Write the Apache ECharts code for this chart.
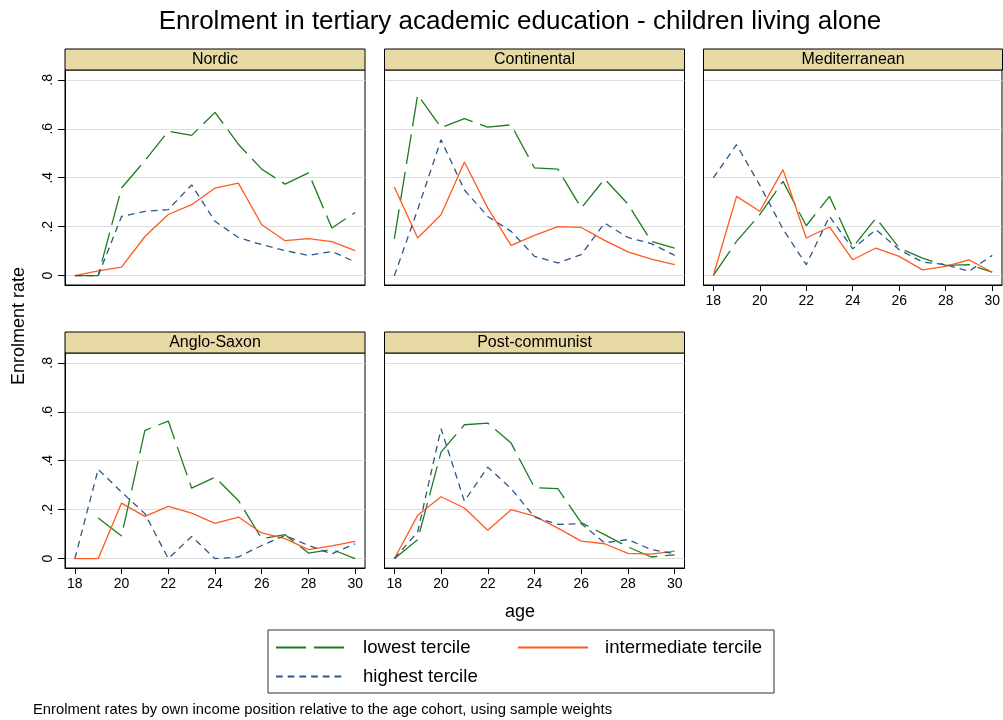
<!DOCTYPE html>
<html>
<head>
<meta charset="utf-8">
<title>Enrolment in tertiary academic education - children living alone</title>
<script src="https://cdn.jsdelivr.net/npm/echarts@6/dist/echarts.min.js"></script>
<style>
  html, body { margin: 0; padding: 0; background: #fff; }
  #chart { width: 1003px; height: 720px; }
</style>
</head>
<body>
<div id="chart"></div>
<script>
const ages = [18, 19, 20, 21, 22, 23, 24, 25, 26, 27, 28, 29, 30]
const xTicks = [18, 20, 22, 24, 26, 28, 30]
const yTicks = [0, 0.2, 0.4, 0.6, 0.8]
const regions = ['Nordic', 'Continental', 'Mediterranean', 'Anglo-Saxon', 'Post-communist']
const terciles = ['lowest tercile', 'intermediate tercile', 'highest tercile']

// enrolment rate by age
const nordicLowest = [0, 0, 0.358, 0.47, 0.59, 0.573, 0.667, 0.537, 0.435, 0.374, 0.42, 0.195, 0.258]
const nordicMiddle = [0, 0.02, 0.035, 0.16, 0.25, 0.29, 0.358, 0.378, 0.208, 0.143, 0.151, 0.139, 0.102]
const nordicHighest = [0, 0, 0.242, 0.263, 0.27, 0.371, 0.222, 0.156, 0.127, 0.102, 0.083, 0.099, 0.056]

const continentalLowest = [0.15, 0.739, 0.605, 0.641, 0.607, 0.616, 0.44, 0.435, 0.276, 0.395, 0.292, 0.14, 0.113]
const continentalMiddle = [0.362, 0.154, 0.249, 0.464, 0.276, 0.124, 0.165, 0.2, 0.197, 0.144, 0.097, 0.068, 0.045]
const continentalHighest = [0, 0.27, 0.555, 0.35, 0.242, 0.181, 0.079, 0.052, 0.086, 0.215, 0.156, 0.131, 0.083]

const medLowest = [0, 0.14, 0.249, 0.385, 0.204, 0.324, 0.116, 0.235, 0.113, 0.072, 0.042, 0.045, 0.015]
const medMiddle = [0, 0.324, 0.263, 0.433, 0.154, 0.199, 0.065, 0.113, 0.079, 0.024, 0.038, 0.065, 0.014]
const medHighest = [0.399, 0.535, 0.37, 0.19, 0.045, 0.242, 0.11, 0.188, 0.106, 0.056, 0.045, 0.018, 0.083]

const angloLowest = [null, 0.166, 0.093, 0.524, 0.562, 0.288, 0.333, 0.238, 0.082, 0.098, 0.023, 0.038, 0]
const angloMiddle = [0, 0, 0.227, 0.173, 0.214, 0.186, 0.144, 0.17, 0.105, 0.082, 0.037, 0.052, 0.071]
const angloHighest = [0, 0.365, 0.272, 0.184, 0, 0.091, 0, 0.007, 0.054, 0.095, 0.054, 0.02, 0.061]

const postLowest = [0, 0.078, 0.435, 0.547, 0.554, 0.472, 0.29, 0.286, 0.147, 0.098, 0.048, 0.007, 0.016]
const postMiddle = [0, 0.177, 0.253, 0.207, 0.116, 0.2, 0.174, 0.125, 0.072, 0.061, 0.022, 0.019, 0.031]
const postHighest = [0, 0.109, 0.531, 0.235, 0.374, 0.286, 0.17, 0.14, 0.143, 0.065, 0.078, 0.037, 0.02]

const panelData = [
  [nordicLowest, nordicMiddle, nordicHighest],
  [continentalLowest, continentalMiddle, continentalHighest],
  [medLowest, medMiddle, medHighest],
  [angloLowest, angloMiddle, angloHighest],
  [postLowest, postMiddle, postHighest]
]

const font = '"Liberation Sans", Arial, sans-serif'
const lineStyles = [
  { color: '#1e7b1e', width: 1.3, type: [30, 8] },
  { color: '#ff5a1e', width: 1.3, type: 'solid' },
  { color: '#2a5888', width: 1.3, type: [6.7, 5] }
]

// panel boxes: plot region below the strip header
const panels = [
  { left: 65, top: 70, width: 300, xLabels: false, yLabels: true },
  { left: 384.5, top: 70, width: 300, xLabels: false, yLabels: false },
  { left: 703.5, top: 70, width: 299, xLabels: true, yLabels: false },
  { left: 65, top: 353, width: 300, xLabels: true, yLabels: true },
  { left: 384.5, top: 353, width: 300, xLabels: true, yLabels: false }
]
const plotHeight = 215
const headerHeight = 21

const chart = echarts.init(document.getElementById('chart'), null, { renderer: 'canvas' })

const grid = panels.map(p => ({
  left: p.left, top: p.top, width: p.width, height: plotHeight,
  show: true, backgroundColor: '#fff', borderColor: '#000', borderWidth: 1
}))

const xAxis = panels.map((p, i) => ({
  type: 'value', gridIndex: i, min: 17.58, max: 30.42,
  axisLine: { show: true, onZero: false, lineStyle: { color: '#000', width: 1 } },
  axisTick: { show: p.xLabels, length: 6, customValues: xTicks, lineStyle: { color: '#000' } },
  axisLabel: { show: p.xLabels, customValues: xTicks, margin: 9, fontSize: 14, color: '#000', fontFamily: font },
  splitLine: { show: false }
}))

const yAxis = panels.map((p, i) => ({
  type: 'value', gridIndex: i, min: -0.038, max: 0.84,
  axisLine: { show: true, onZero: false, lineStyle: { color: '#000', width: 1 } },
  axisTick: { show: p.yLabels, length: 7, customValues: yTicks, lineStyle: { color: '#000' } },
  axisLabel: {
    show: p.yLabels, customValues: yTicks, rotate: 90, margin: 10, fontSize: 14,
    color: '#000', fontFamily: font,
    formatter: v => (v === 0 ? '0' : String(v).replace(/^0/, ''))
  },
  splitLine: { show: true, lineStyle: { color: '#dedede', width: 1 } }
}))

const series = []
panelData.forEach((sets, i) => {
  sets.forEach((vals, j) => {
    series.push({
      name: terciles[j],
      type: 'line',
      xAxisIndex: i,
      yAxisIndex: i,
      symbol: 'none',
      lineStyle: lineStyles[j],
      itemStyle: { color: lineStyles[j].color },
      data: ages.map((a, k) => [a, vals[k]]).filter(d => d[1] !== null)
    })
  })
})

const graphic = []
panels.forEach((p, i) => {
  graphic.push({
    type: 'rect',
    shape: { x: p.left, y: p.top - headerHeight, width: p.width, height: headerHeight },
    style: { fill: '#e6d9a3', stroke: '#000', lineWidth: 1 }
  })
  graphic.push({
    type: 'text', x: p.left + p.width / 2, y: p.top - headerHeight / 2,
    style: { text: regions[i], font: '16px ' + font, fill: '#000', align: 'center', verticalAlign: 'middle' }
  })
})
graphic.push(
  {
    type: 'text', x: 520, y: 22,
    style: { text: 'Enrolment in tertiary academic education - children living alone', font: '26px ' + font, fill: '#000', align: 'center', verticalAlign: 'middle' }
  },
  {
    type: 'text', x: 19, y: 326, rotation: Math.PI / 2,
    style: { text: 'Enrolment rate', font: '18px ' + font, fill: '#000', align: 'center', verticalAlign: 'middle' }
  },
  {
    type: 'text', x: 520, y: 612,
    style: { text: 'age', font: '18px ' + font, fill: '#000', align: 'center', verticalAlign: 'middle' }
  },
  {
    type: 'rect',
    shape: { x: 268, y: 630, width: 506, height: 63 },
    style: { fill: 'none', stroke: '#333', lineWidth: 1 }
  },
  {
    type: 'text', x: 33, y: 710,
    style: { text: 'Enrolment rates by own income position relative to the age cohort, using sample weights', font: '14.8px ' + font, fill: '#000', align: 'left', verticalAlign: 'middle' }
  }
)

const legendBase = {
  orient: 'horizontal', padding: 0, itemWidth: 70, itemHeight: 14, selectedMode: false,
  itemStyle: { opacity: 0 },
  textStyle: { fontSize: 18.6, color: '#000', fontFamily: font, padding: [0, 0, 0, 12] }
}
const legend = [
  Object.assign({}, legendBase, { data: [terciles[0]], left: 275, top: 638 }),
  Object.assign({}, legendBase, { data: [terciles[1]], left: 517, top: 638 }),
  Object.assign({}, legendBase, { data: [terciles[2]], left: 275, top: 667 })
]

chart.setOption({
  backgroundColor: '#fff',
  animation: false,
  grid: grid,
  xAxis: xAxis,
  yAxis: yAxis,
  legend: legend,
  graphic: graphic,
  series: series
})
</script>
</body>
</html>
